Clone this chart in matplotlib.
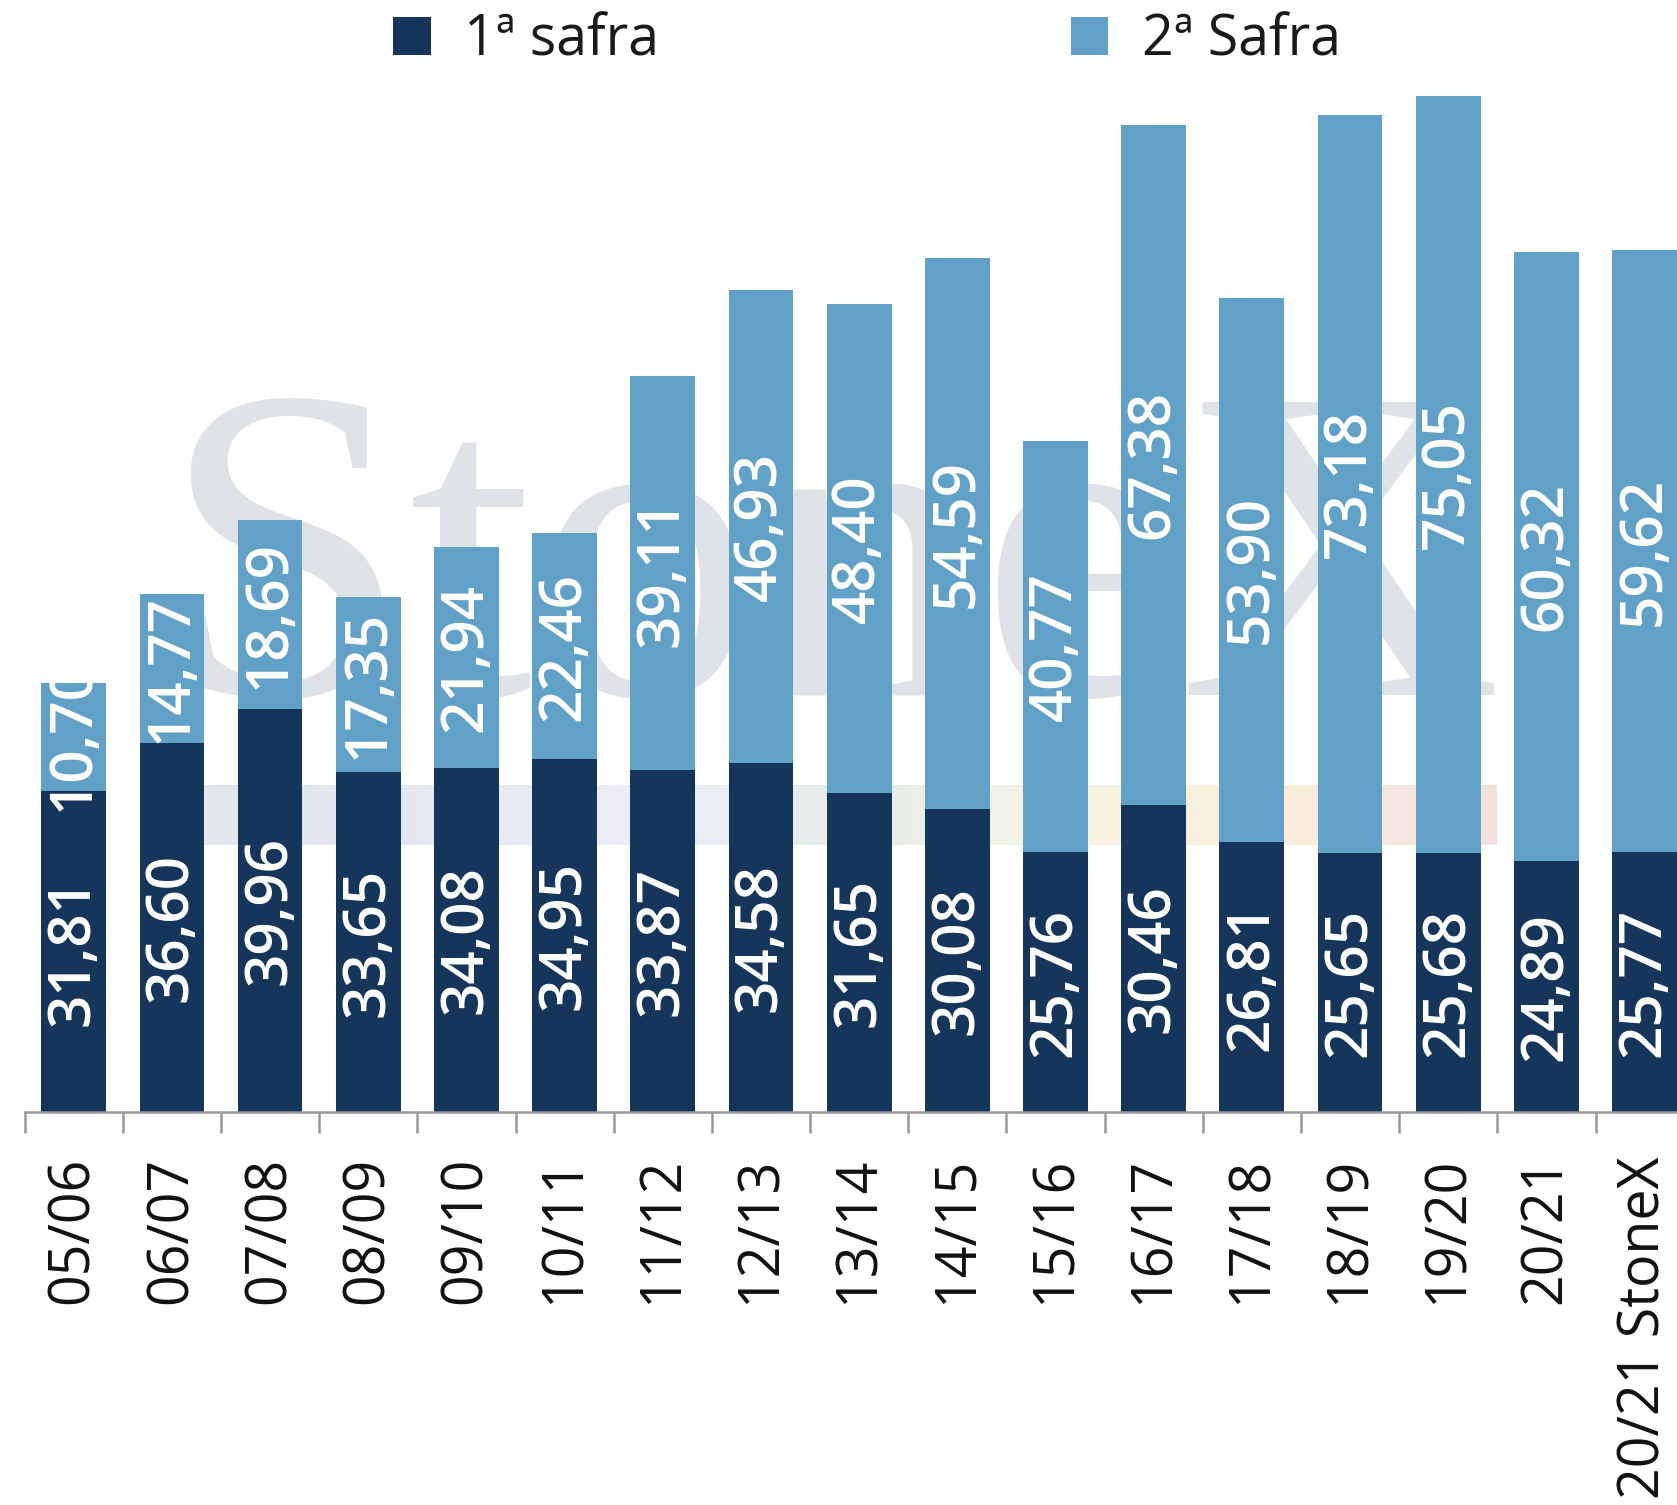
import matplotlib
matplotlib.use("Agg")
import matplotlib.pyplot as plt
import numpy as np
from matplotlib.patches import Patch
from matplotlib.colors import LinearSegmentedColormap

categories = ["05/06", "06/07", "07/08", "08/09", "09/10", "10/11", "11/12", "12/13",
              "13/14", "14/15", "15/16", "16/17", "17/18", "18/19", "19/20", "20/21",
              "20/21 StoneX"]
safra1 = [31.81, 36.60, 39.96, 33.65, 34.08, 34.95, 33.87, 34.58, 31.65, 30.08,
          25.76, 30.46, 26.81, 25.65, 25.68, 24.89, 25.77]
safra2 = [10.70, 14.77, 18.69, 17.35, 21.94, 22.46, 39.11, 46.93, 48.40, 54.59,
          40.77, 67.38, 53.90, 73.18, 75.05, 60.32, 59.62]
series_names = ["1ª safra", "2ª Safra"]

DARK = "#15365A"
LIGHT = "#62A1C7"
FONT = ["Open Sans", "DejaVu Sans"]
plt.rcParams['font.family'] = FONT

fig = plt.figure(figsize=(16.77, 15.05), dpi=100)
ax = fig.add_axes([0.0147, 0.2611, 0.9853, 0.7389])
ax.set_facecolor("none")

# watermark (logo behind the bars)
wm_ax = fig.add_axes([0.0147, 0.2611, 0.9853, 0.7389], zorder=-1)
wm_ax.set_axis_off()
wm_ax.set_xlim(0, 1)
wm_ax.set_ylim(0, 1)
band_colors = ["#e3e6eb", "#e5e9ef", "#e9eef7", "#e5ece9", "#f7f4e4", "#f9eedd", "#f3e1e1"]
cmap = LinearSegmentedColormap.from_list("wm", band_colors)
grad = np.linspace(0, 1, 256).reshape(1, -1)
x0 = (203 - 24.6) / 1652.4
x1 = (1497 - 24.6) / 1652.4
y0 = (1112 - 845) / 1112
y1 = (1112 - 786) / 1112
wm_ax.imshow(grad, extent=[x0, x1, y0, y1], aspect="auto", cmap=cmap, zorder=0)
wm_ax.text((160 - 24.6) / 1652.4, (1112 - 695) / 1112, "StoneX", family="Liberation Serif",
           fontsize=322, color="#dfe2e7", ha="left", va="baseline", zorder=1)

x = np.arange(len(categories))
w = 0.66
b1 = ax.bar(x, safra1, width=w, color=DARK, zorder=2)
b2 = ax.bar(x, safra2, width=w, bottom=safra1, color=LIGHT, zorder=2)

def fmt(v):
    return f"{v:.2f}".replace(".", ",")

for bars, vals, bottoms in ((b1, safra1, [0] * len(safra1)), (b2, safra2, safra1)):
    for rect, v, b in zip(bars, vals, bottoms):
        t = ax.text(rect.get_x() + rect.get_width() / 2, b + v / 2, fmt(v),
                    rotation=90, ha="center", va="center", rotation_mode="anchor",
                    color="white", fontsize=42, fontweight="semibold", zorder=3)
        t.set_clip_path(rect)

for s in ("top", "right", "left"):
    ax.spines[s].set_visible(False)
ax.spines["bottom"].set_color("#999999")
ax.spines["bottom"].set_linewidth(1.8)
ax.set_yticks([])

ax.set_xticks(x)
ax.set_xticklabels(categories, rotation=90, fontsize=40, color="#111111")
ax.tick_params(axis="x", which="major", length=0, pad=32)
ax.set_xticks(np.arange(-0.5, len(categories), 1.0), minor=True)
ax.tick_params(axis="x", which="minor", length=15, width=1.8, color="#999999")

ax.set_xlim(-0.5, 16.33)
ax.set_ylim(0, 110.2)

handles = [Patch(facecolor=DARK, edgecolor="none"), Patch(facecolor=LIGHT, edgecolor="none")]
fig.legend(handles, series_names, loc="center", bbox_to_anchor=(0.517, 0.973), ncol=2,
           frameon=False, fontsize=40, handlelength=0.68, handleheight=0.68,
           handletextpad=0.6, columnspacing=7.4, labelcolor="#1a1a1a")

fig.savefig("out.png", dpi=100)
